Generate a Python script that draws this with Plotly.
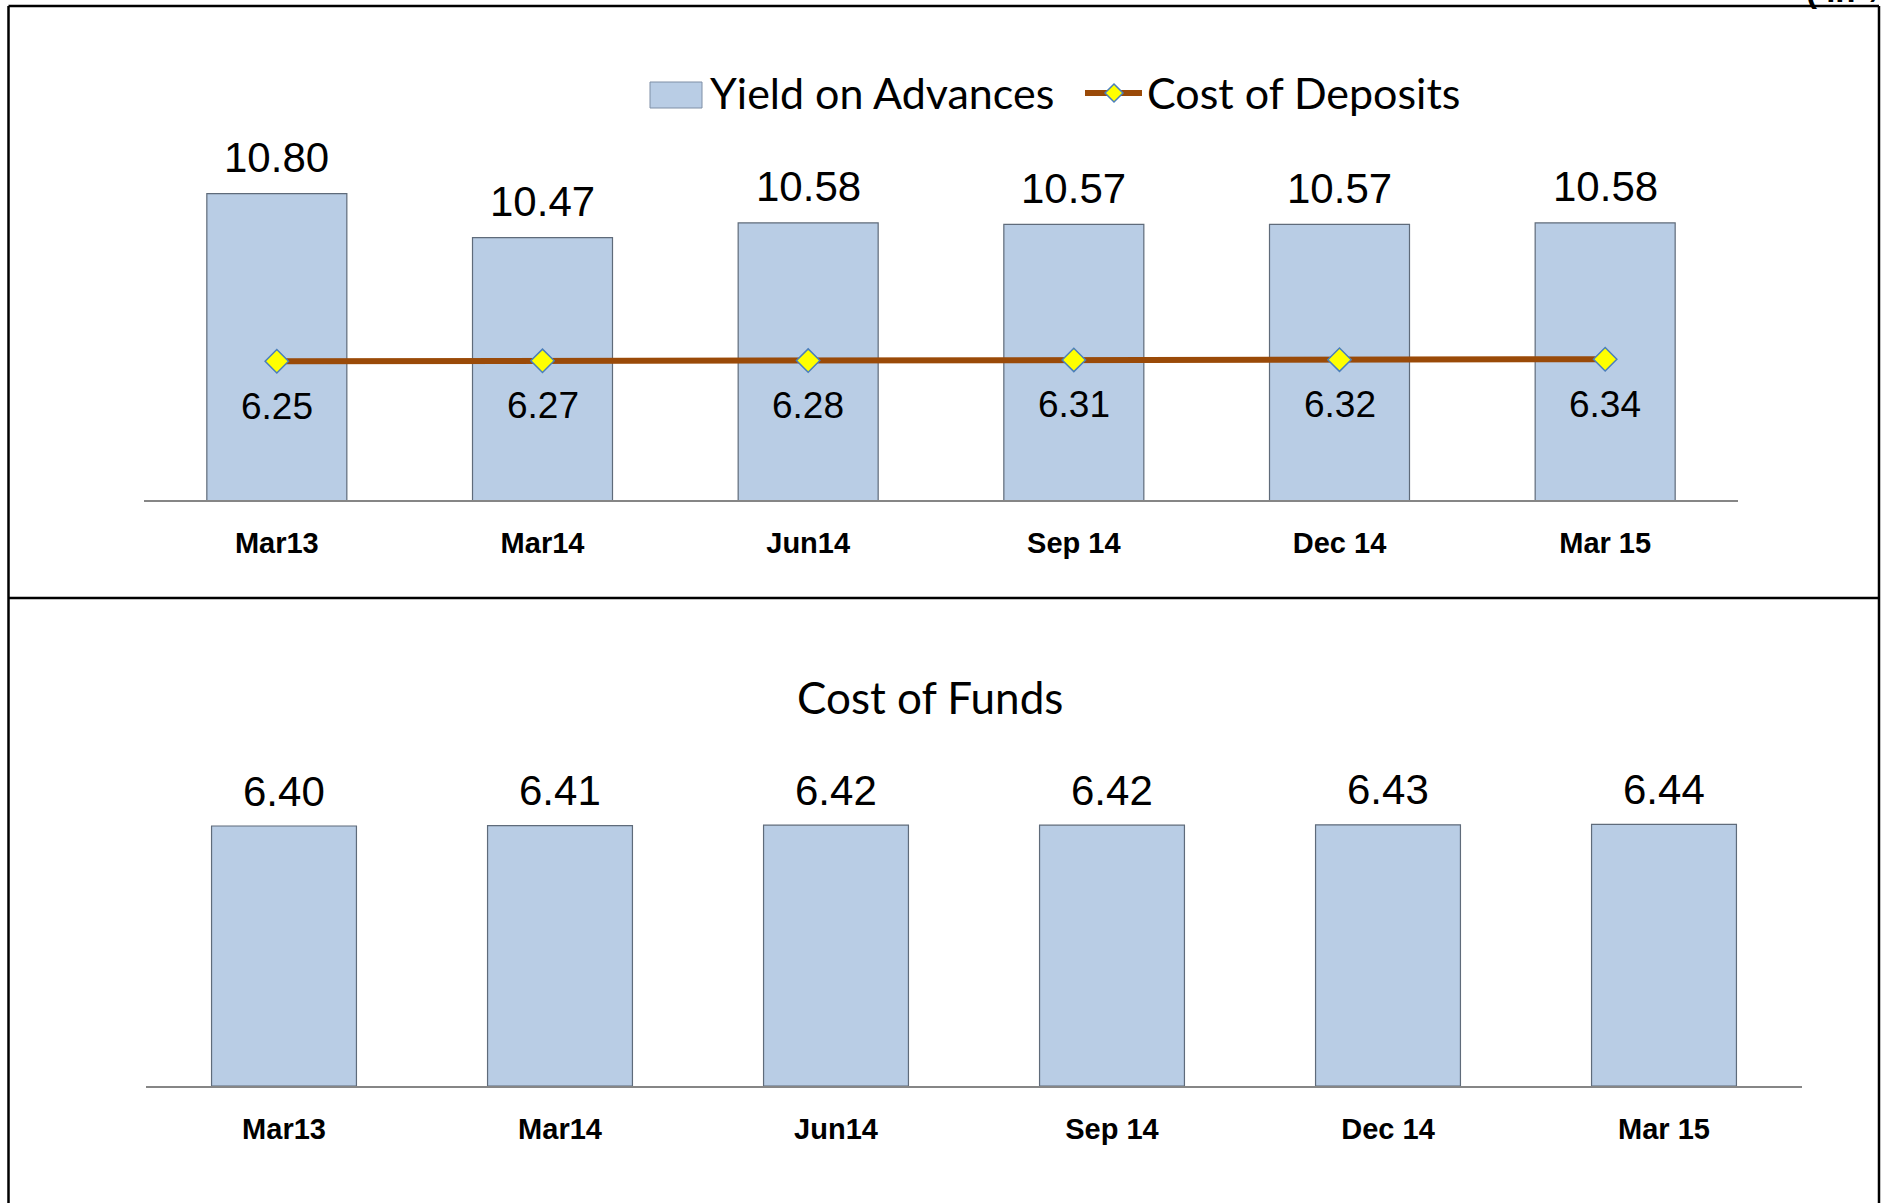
import plotly.graph_objects as go

# ---------------- data ----------------
categories = ["Mar13", "Mar14", "Jun14", "Sep 14", "Dec 14", "Mar 15"]
yield_on_advances = [10.80, 10.47, 10.58, 10.57, 10.57, 10.58]
cost_of_deposits = [6.25, 6.27, 6.28, 6.31, 6.32, 6.34]
cost_of_funds = [6.40, 6.41, 6.42, 6.42, 6.43, 6.44]

W, H = 1881, 1203


def px(x):
    return x / W


def py(y):
    return 1 - y / H


BAR_FILL = "#B9CDE5"
BAR_EDGE = "#5f6b7a"
LINE_COL = "#9A4A08"
AXIS_COL = "#868686"
LABEL_FONT = dict(family="Liberation Sans, Arial, sans-serif", size=42, color="#000000")
LINE_LABEL_FONT = dict(family="Liberation Sans, Arial, sans-serif", size=37, color="#000000")
CAT_FONT = dict(family="Liberation Sans, Arial, sans-serif", size=29, color="#000000")
CAL_FONT = "Lato, Carlito, Calibri, sans-serif"

fig = go.Figure()

# top chart: bars
fig.add_trace(go.Bar(
    x=categories, y=yield_on_advances, name="Yield on Advances",
    marker=dict(color=BAR_FILL, line=dict(color=BAR_EDGE, width=1.2)),
    width=0.527, xaxis="x", yaxis="y", showlegend=False, hoverinfo="x+y",
))
# top chart: line on secondary axis
fig.add_trace(go.Scatter(
    x=categories, y=cost_of_deposits, name="Cost of Deposits",
    mode="lines+markers",
    line=dict(color=LINE_COL, width=6),
    marker=dict(symbol="diamond", size=18, color="#FFFF00",
                line=dict(color="#4A7EBB", width=1.5)),
    xaxis="x", yaxis="y2", showlegend=False,
))
# bottom chart
fig.add_trace(go.Bar(
    x=categories, y=cost_of_funds, name="Cost of Funds",
    marker=dict(color=BAR_FILL, line=dict(color=BAR_EDGE, width=1.2)),
    width=0.525, xaxis="x3", yaxis="y3", showlegend=False,
))

annotations = []
for c, v in zip(categories, yield_on_advances):
    annotations.append(dict(x=c, y=v, xref="x", yref="y", text=f"{v:.2f}",
                            showarrow=False, yanchor="middle", yshift=36,
                            font=LABEL_FONT))
for c, v in zip(categories, cost_of_deposits):
    annotations.append(dict(x=c, y=v, xref="x", yref="y2", text=f"{v:.2f}",
                            showarrow=False, yanchor="middle", yshift=-45,
                            font=LINE_LABEL_FONT))
for c, v in zip(categories, cost_of_funds):
    annotations.append(dict(x=c, y=v, xref="x3", yref="y3", text=f"{v:.2f}",
                            showarrow=False, yanchor="middle", yshift=35,
                            font=LABEL_FONT))

# legend (manual)
annotations.append(dict(x=px(708), y=py(93), xref="paper", yref="paper",
                        text="Yield on Advances", showarrow=False,
                        xanchor="left", yanchor="middle",
                        font=dict(family=CAL_FONT, size=43, color="#000")))
annotations.append(dict(x=px(1145), y=py(93), xref="paper", yref="paper",
                        text="Cost of Deposits", showarrow=False,
                        xanchor="left", yanchor="middle",
                        font=dict(family=CAL_FONT, size=43, color="#000")))
# bottom title
annotations.append(dict(x=px(930), y=py(697), xref="paper", yref="paper",
                        text="Cost of Funds", showarrow=False,
                        xanchor="center", yanchor="middle",
                        font=dict(family=CAL_FONT, size=44, color="#000")))
# unit text at the top-right, cut by the slide edge as in the source
annotations.append(dict(x=px(1804), y=py(-9), xref="paper", yref="paper",
                        text="<b>( in %)</b>", showarrow=False,
                        xanchor="left", yanchor="middle",
                        font=dict(family="Liberation Sans, Arial", size=33, color="#000")))

shapes = []
# frame
blk = dict(color="#000000", width=2.5)
shapes.append(dict(type="line", xref="paper", yref="paper", x0=px(8.5), x1=px(1879), y0=py(6), y1=py(6), line=blk))
shapes.append(dict(type="line", xref="paper", yref="paper", x0=px(8.5), x1=px(8.5), y0=py(6), y1=py(1210), line=blk))
shapes.append(dict(type="line", xref="paper", yref="paper", x0=px(1879), x1=px(1879), y0=py(6), y1=py(1210), line=blk))
shapes.append(dict(type="line", xref="paper", yref="paper", x0=px(8.5), x1=px(1879), y0=py(598), y1=py(598), line=blk))
# legend swatches
shapes.append(dict(type="rect", xref="paper", yref="paper", x0=px(650), x1=px(702), y0=py(82), y1=py(108),
                   fillcolor=BAR_FILL, line=dict(color="#7f8fa6", width=1)))
shapes.append(dict(type="line", xref="paper", yref="paper", x0=px(1085), x1=px(1142), y0=py(93), y1=py(93),
                   line=dict(color=LINE_COL, width=6)))
cx, cy, r = 1114, 93, 9
shapes.append(dict(type="path", xref="paper", yref="paper",
                   path=f"M {px(cx)},{py(cy - r)} L {px(cx + r)},{py(cy)} L {px(cx)},{py(cy + r)} L {px(cx - r)},{py(cy)} Z",
                   fillcolor="#FFFF00", line=dict(color="#4A7EBB", width=1.5)))

xaxis_common = dict(type="category", showgrid=False, zeroline=False, showline=True,
                    linecolor=AXIS_COL, linewidth=2, ticks="", tickfont=CAT_FONT,
                    tickprefix="<b>", ticksuffix="</b>", ticklabelstandoff=16,
                    range=[-0.5, 5.5], fixedrange=True)

fig.update_layout(
    width=W, height=H,
    margin=dict(l=0, r=0, t=0, b=0),
    paper_bgcolor="#FFFFFF", plot_bgcolor="rgba(0,0,0,0)",
    xaxis=dict(domain=[px(144), px(1738)], anchor="y", **xaxis_common),
    yaxis=dict(domain=[py(500), py(167)], range=[8.5, 11.0], visible=False, fixedrange=True),
    yaxis2=dict(overlaying="y", range=[0, 15], visible=False, fixedrange=True),
    xaxis3=dict(domain=[px(146), px(1802)], anchor="y3", **xaxis_common),
    yaxis3=dict(domain=[py(1086), py(761)], range=[0, 8], visible=False, fixedrange=True),
    annotations=annotations,
    shapes=shapes,
    showlegend=False,
    bargap=0.47,
)

fig.write_html(
    "out.html",
    config={"displayModeBar": False},
    post_script="document.body.style.margin='0';document.body.style.overflow='hidden';",
)
